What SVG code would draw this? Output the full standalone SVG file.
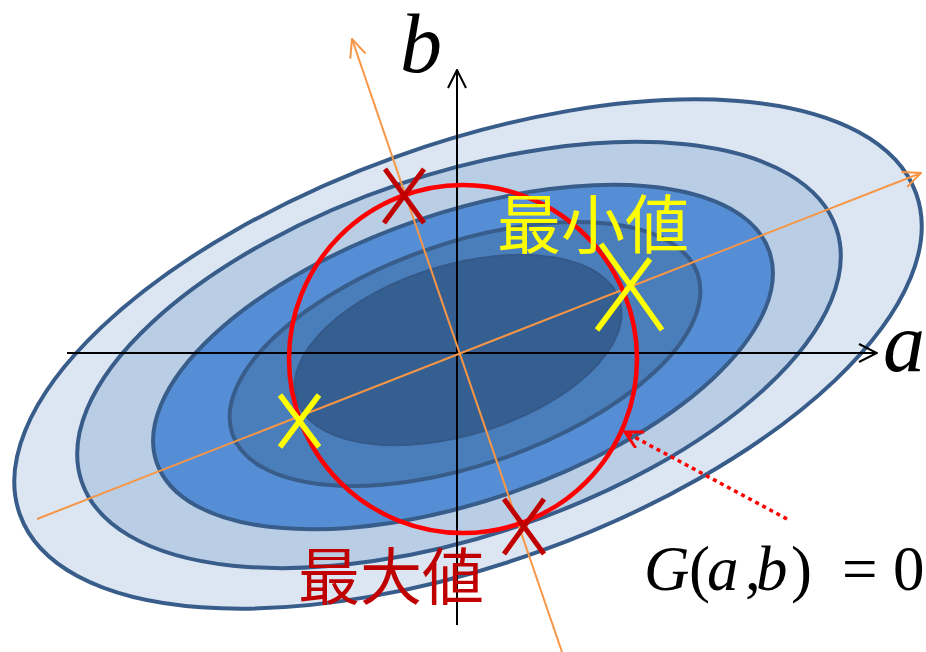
<svg xmlns="http://www.w3.org/2000/svg" width="926" height="652" viewBox="0 0 926 652">
<style>
.ell{stroke:#385D8A;stroke-width:4}
.axis{stroke:#000;stroke-width:2;fill:none}
.orange{stroke:#F79646;stroke-width:2;fill:none}
.redx{stroke:#C00000;stroke-width:5;fill:none}
.yelx{stroke:#FFFF00;stroke-width:5.5;fill:none}
.cjk{font-family:"Noto Sans CJK JP","Noto Sans CJK SC",sans-serif}
.math{font-family:"Liberation Serif","Times New Roman",serif}
.it{font-style:italic}
</style>
<defs>
<marker id="arrBlack" viewBox="0 0 20 20" refX="19" refY="10" markerWidth="20" markerHeight="20" markerUnits="userSpaceOnUse" orient="auto">
<path d="M1,1 L19,10 L1,19" fill="none" stroke="#000" stroke-width="2"/>
</marker>
<marker id="arrOrange" viewBox="0 0 20 18" refX="19" refY="9" markerWidth="20" markerHeight="18" markerUnits="userSpaceOnUse" orient="auto">
<path d="M1,1 L19,9 L1,17" fill="none" stroke="#F79646" stroke-width="2"/>
</marker>
<marker id="arrRed" viewBox="0 0 20 20" refX="18" refY="10" markerWidth="20" markerHeight="20" markerUnits="userSpaceOnUse" orient="auto">
<path d="M1,1 L18,10 L1,19" fill="none" stroke="#FF0000" stroke-width="3"/>
</marker>
</defs>

<g id="contours">
<ellipse class="ell" cx="468" cy="354" rx="476" ry="210" fill="#DCE6F2" transform="rotate(-19.7 468 354)"/>
<ellipse class="ell" cx="459" cy="355" rx="398" ry="181" fill="#B9CDE5" transform="rotate(-18.5 459 355)"/>
<ellipse class="ell" cx="463" cy="357" rx="324" ry="144" fill="#558ED5" transform="rotate(-19 463 357)"/>
<ellipse class="ell" cx="465" cy="354" rx="246" ry="111" fill="#4A7EBB" transform="rotate(-19 465 354)"/>
<ellipse cx="458" cy="350" rx="169" ry="85" fill="#365F91" stroke="#34598A" stroke-width="2" transform="rotate(-17 458 350)"/>
</g>

<g id="connectors">
<line class="axis" x1="67" y1="353" x2="877" y2="353" marker-end="url(#arrBlack)"/>
<line class="axis" x1="457" y1="625" x2="457" y2="70" marker-end="url(#arrBlack)"/>
<line class="orange" x1="37" y1="519" x2="921" y2="173" marker-end="url(#arrOrange)"/>
<line class="orange" x1="562" y1="652" x2="352" y2="39" marker-end="url(#arrOrange)"/>
<line x1="787" y1="519" x2="625" y2="432" stroke="#FF0000" stroke-width="3.5" stroke-dasharray="4 4" marker-end="url(#arrRed)"/>
</g>

<g id="constraint">
<circle cx="463" cy="359" r="174" fill="none" stroke="#FF0000" stroke-width="4.5"/>
</g>

<g id="max-points">
<path class="redx" d="M385,169 L424,223 M424,169 L384,223"/>
<path class="redx" d="M504,499 L544,554 M544,499 L504,554"/>
</g>

<g id="min-points">
<path class="yelx" d="M601,244 L662,330 M650,259 L597,330"/>
<path class="yelx" d="M280,395 L319,447 M319,395 L280,447"/>
</g>

<g id="labels">
<text class="cjk" x="497" y="248" font-size="64" fill="#FFFF00">最小値</text>
<text class="cjk" x="298" y="600" font-size="62" fill="#C00000">最大値</text>
<text class="math it" x="400" y="72" font-size="84">b</text>
<text class="math it" x="883" y="371" font-size="84">a</text>
<text class="math" y="590" font-size="63"><tspan class="it" x="644">G</tspan><tspan x="689">(</tspan><tspan class="it" x="707">a</tspan><tspan x="745">,</tspan><tspan class="it" x="756">b</tspan><tspan x="791">)</tspan><tspan x="842">=</tspan><tspan x="893">0</tspan></text>
</g>
</svg>
